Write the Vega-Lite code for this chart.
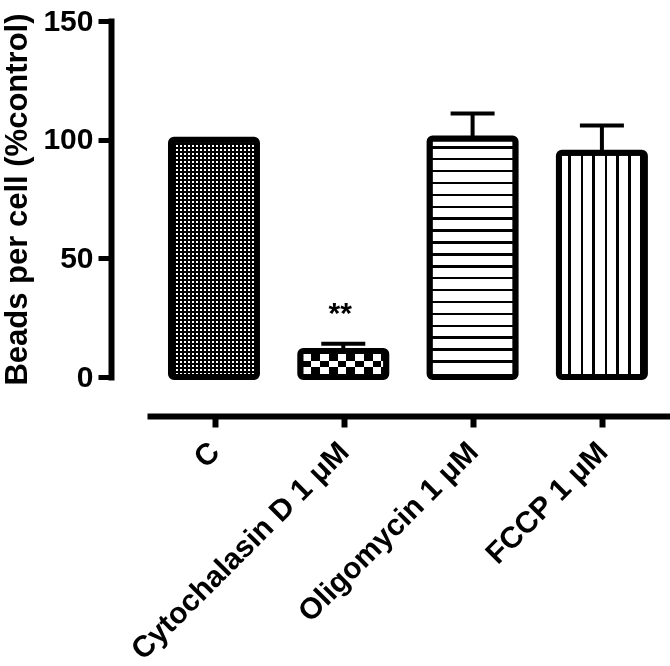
{
  "$schema": "https://vega.github.io/schema/vega-lite/v6.json",
  "autosize": "none",
  "width": 559,
  "height": 356,
  "padding": {"left": 111, "top": 21, "right": 0, "bottom": 289},
  "background": "white",
  "config": {
    "view": {"stroke": null},
    "font": "Liberation Sans",
    "axis": {"grid": false, "labelFont": "Liberation Sans", "labelFontWeight": "bold", "labelColor": "black", "titleFont": "Liberation Sans", "titleFontWeight": "bold", "titleColor": "black", "domainColor": "black", "tickColor": "black"},
    "axisY": {"domainWidth": 6, "domainCap": "square", "tickSize": 13, "tickWidth": 5, "labelFontSize": 30, "labelPadding": 5, "titleFontSize": 31, "titlePadding": 9}
  },
  "data": {"values": [
    {"group": "C", "value": 100, "upper": null, "label": ""},
    {"group": "Cytochalasin D 1 μM", "value": 11, "upper": 14, "label": "**"},
    {"group": "Oligomycin 1 μM", "value": 100.5, "upper": 111, "label": ""},
    {"group": "FCCP 1 μM", "value": 94.5, "upper": 106, "label": ""}
  ]},
  "resolve": {"scale": {"x": "independent"}, "axis": {"x": "independent"}},
  "layer": [
    {
      "encoding": {
        "x": {"field": "group", "type": "nominal", "sort": null, "scale": {"domain": ["C", "Cytochalasin D 1 μM", "Oligomycin 1 μM", "FCCP 1 μM"], "paddingInner": 0.335, "paddingOuter": 0.329, "align": 0.705}, "axis": null}
      },
      "layer": [
        {
          "transform": [{"filter": "datum.group === 'C'"}],
          "mark": {"type": "bar", "fill": {"gradient": "linear", "x1": 0, "y1": 0, "x2": 1, "y2": 0, "stops": [
            {"offset": 0, "color": "#000"},
            {"offset": 0.01163, "color": "#000"}, {"offset": 0.01163, "color": "#fff"}, {"offset": 0.03488, "color": "#fff"}, {"offset": 0.03488, "color": "#000"},
            {"offset": 0.05814, "color": "#000"}, {"offset": 0.05814, "color": "#fff"}, {"offset": 0.08140, "color": "#fff"}, {"offset": 0.08140, "color": "#000"},
            {"offset": 0.10465, "color": "#000"}, {"offset": 0.10465, "color": "#fff"}, {"offset": 0.12791, "color": "#fff"}, {"offset": 0.12791, "color": "#000"},
            {"offset": 0.15116, "color": "#000"}, {"offset": 0.15116, "color": "#fff"}, {"offset": 0.17442, "color": "#fff"}, {"offset": 0.17442, "color": "#000"},
            {"offset": 0.19767, "color": "#000"}, {"offset": 0.19767, "color": "#fff"}, {"offset": 0.22093, "color": "#fff"}, {"offset": 0.22093, "color": "#000"},
            {"offset": 0.24419, "color": "#000"}, {"offset": 0.24419, "color": "#fff"}, {"offset": 0.26744, "color": "#fff"}, {"offset": 0.26744, "color": "#000"},
            {"offset": 0.29070, "color": "#000"}, {"offset": 0.29070, "color": "#fff"}, {"offset": 0.31395, "color": "#fff"}, {"offset": 0.31395, "color": "#000"},
            {"offset": 0.33721, "color": "#000"}, {"offset": 0.33721, "color": "#fff"}, {"offset": 0.36047, "color": "#fff"}, {"offset": 0.36047, "color": "#000"},
            {"offset": 0.38372, "color": "#000"}, {"offset": 0.38372, "color": "#fff"}, {"offset": 0.40698, "color": "#fff"}, {"offset": 0.40698, "color": "#000"},
            {"offset": 0.43023, "color": "#000"}, {"offset": 0.43023, "color": "#fff"}, {"offset": 0.45349, "color": "#fff"}, {"offset": 0.45349, "color": "#000"},
            {"offset": 0.47674, "color": "#000"}, {"offset": 0.47674, "color": "#fff"}, {"offset": 0.5, "color": "#fff"}, {"offset": 0.5, "color": "#000"},
            {"offset": 0.52326, "color": "#000"}, {"offset": 0.52326, "color": "#fff"}, {"offset": 0.54651, "color": "#fff"}, {"offset": 0.54651, "color": "#000"},
            {"offset": 0.56977, "color": "#000"}, {"offset": 0.56977, "color": "#fff"}, {"offset": 0.59302, "color": "#fff"}, {"offset": 0.59302, "color": "#000"},
            {"offset": 0.61628, "color": "#000"}, {"offset": 0.61628, "color": "#fff"}, {"offset": 0.63953, "color": "#fff"}, {"offset": 0.63953, "color": "#000"},
            {"offset": 0.66279, "color": "#000"}, {"offset": 0.66279, "color": "#fff"}, {"offset": 0.68605, "color": "#fff"}, {"offset": 0.68605, "color": "#000"},
            {"offset": 0.70930, "color": "#000"}, {"offset": 0.70930, "color": "#fff"}, {"offset": 0.73256, "color": "#fff"}, {"offset": 0.73256, "color": "#000"},
            {"offset": 0.75581, "color": "#000"}, {"offset": 0.75581, "color": "#fff"}, {"offset": 0.77907, "color": "#fff"}, {"offset": 0.77907, "color": "#000"},
            {"offset": 0.80233, "color": "#000"}, {"offset": 0.80233, "color": "#fff"}, {"offset": 0.82558, "color": "#fff"}, {"offset": 0.82558, "color": "#000"},
            {"offset": 0.84884, "color": "#000"}, {"offset": 0.84884, "color": "#fff"}, {"offset": 0.87209, "color": "#fff"}, {"offset": 0.87209, "color": "#000"},
            {"offset": 0.89535, "color": "#000"}, {"offset": 0.89535, "color": "#fff"}, {"offset": 0.91860, "color": "#fff"}, {"offset": 0.91860, "color": "#000"},
            {"offset": 0.94186, "color": "#000"}, {"offset": 0.94186, "color": "#fff"}, {"offset": 0.96512, "color": "#fff"}, {"offset": 0.96512, "color": "#000"},
            {"offset": 1, "color": "#000"}
          ]}},
          "encoding": {"y": {"field": "value", "type": "quantitative", "scale": {"domain": [0, 150], "nice": false}, "title": "Beads per cell (%control)", "axis": {"values": [0, 50, 100, 150]}}}
        },
        {
          "transform": [{"filter": "datum.group === 'C'"}],
          "mark": {"type": "bar", "blend": "multiply", "fill": {"gradient": "linear", "x1": 0, "y1": 0, "x2": 0, "y2": 1, "stops": [
            {"offset": 0, "color": "#000"},
            {"offset": 0.00421, "color": "#000"}, {"offset": 0.00421, "color": "#fff"}, {"offset": 0.01264, "color": "#fff"}, {"offset": 0.01264, "color": "#000"},
            {"offset": 0.02107, "color": "#000"}, {"offset": 0.02107, "color": "#fff"}, {"offset": 0.02950, "color": "#fff"}, {"offset": 0.02950, "color": "#000"},
            {"offset": 0.03793, "color": "#000"}, {"offset": 0.03793, "color": "#fff"}, {"offset": 0.04636, "color": "#fff"}, {"offset": 0.04636, "color": "#000"},
            {"offset": 0.05478, "color": "#000"}, {"offset": 0.05478, "color": "#fff"}, {"offset": 0.06321, "color": "#fff"}, {"offset": 0.06321, "color": "#000"},
            {"offset": 0.07164, "color": "#000"}, {"offset": 0.07164, "color": "#fff"}, {"offset": 0.08007, "color": "#fff"}, {"offset": 0.08007, "color": "#000"},
            {"offset": 0.08850, "color": "#000"}, {"offset": 0.08850, "color": "#fff"}, {"offset": 0.09693, "color": "#fff"}, {"offset": 0.09693, "color": "#000"},
            {"offset": 0.10535, "color": "#000"}, {"offset": 0.10535, "color": "#fff"}, {"offset": 0.11378, "color": "#fff"}, {"offset": 0.11378, "color": "#000"},
            {"offset": 0.12221, "color": "#000"}, {"offset": 0.12221, "color": "#fff"}, {"offset": 0.13064, "color": "#fff"}, {"offset": 0.13064, "color": "#000"},
            {"offset": 0.13907, "color": "#000"}, {"offset": 0.13907, "color": "#fff"}, {"offset": 0.14750, "color": "#fff"}, {"offset": 0.14750, "color": "#000"},
            {"offset": 0.15592, "color": "#000"}, {"offset": 0.15592, "color": "#fff"}, {"offset": 0.16435, "color": "#fff"}, {"offset": 0.16435, "color": "#000"},
            {"offset": 0.17278, "color": "#000"}, {"offset": 0.17278, "color": "#fff"}, {"offset": 0.18121, "color": "#fff"}, {"offset": 0.18121, "color": "#000"},
            {"offset": 0.18964, "color": "#000"}, {"offset": 0.18964, "color": "#fff"}, {"offset": 0.19807, "color": "#fff"}, {"offset": 0.19807, "color": "#000"},
            {"offset": 0.20649, "color": "#000"}, {"offset": 0.20649, "color": "#fff"}, {"offset": 0.21492, "color": "#fff"}, {"offset": 0.21492, "color": "#000"},
            {"offset": 0.22335, "color": "#000"}, {"offset": 0.22335, "color": "#fff"}, {"offset": 0.23178, "color": "#fff"}, {"offset": 0.23178, "color": "#000"},
            {"offset": 0.24021, "color": "#000"}, {"offset": 0.24021, "color": "#fff"}, {"offset": 0.24864, "color": "#fff"}, {"offset": 0.24864, "color": "#000"},
            {"offset": 0.25706, "color": "#000"}, {"offset": 0.25706, "color": "#fff"}, {"offset": 0.26549, "color": "#fff"}, {"offset": 0.26549, "color": "#000"},
            {"offset": 0.27392, "color": "#000"}, {"offset": 0.27392, "color": "#fff"}, {"offset": 0.28235, "color": "#fff"}, {"offset": 0.28235, "color": "#000"},
            {"offset": 0.29078, "color": "#000"}, {"offset": 0.29078, "color": "#fff"}, {"offset": 0.29921, "color": "#fff"}, {"offset": 0.29921, "color": "#000"},
            {"offset": 0.30763, "color": "#000"}, {"offset": 0.30763, "color": "#fff"}, {"offset": 0.31606, "color": "#fff"}, {"offset": 0.31606, "color": "#000"},
            {"offset": 0.32449, "color": "#000"}, {"offset": 0.32449, "color": "#fff"}, {"offset": 0.33292, "color": "#fff"}, {"offset": 0.33292, "color": "#000"},
            {"offset": 0.34135, "color": "#000"}, {"offset": 0.34135, "color": "#fff"}, {"offset": 0.34978, "color": "#fff"}, {"offset": 0.34978, "color": "#000"},
            {"offset": 0.35820, "color": "#000"}, {"offset": 0.35820, "color": "#fff"}, {"offset": 0.36663, "color": "#fff"}, {"offset": 0.36663, "color": "#000"},
            {"offset": 0.37506, "color": "#000"}, {"offset": 0.37506, "color": "#fff"}, {"offset": 0.38349, "color": "#fff"}, {"offset": 0.38349, "color": "#000"},
            {"offset": 0.39192, "color": "#000"}, {"offset": 0.39192, "color": "#fff"}, {"offset": 0.40035, "color": "#fff"}, {"offset": 0.40035, "color": "#000"},
            {"offset": 0.40877, "color": "#000"}, {"offset": 0.40877, "color": "#fff"}, {"offset": 0.41720, "color": "#fff"}, {"offset": 0.41720, "color": "#000"},
            {"offset": 0.42563, "color": "#000"}, {"offset": 0.42563, "color": "#fff"}, {"offset": 0.43406, "color": "#fff"}, {"offset": 0.43406, "color": "#000"},
            {"offset": 0.44249, "color": "#000"}, {"offset": 0.44249, "color": "#fff"}, {"offset": 0.45092, "color": "#fff"}, {"offset": 0.45092, "color": "#000"},
            {"offset": 0.45934, "color": "#000"}, {"offset": 0.45934, "color": "#fff"}, {"offset": 0.46777, "color": "#fff"}, {"offset": 0.46777, "color": "#000"},
            {"offset": 0.47620, "color": "#000"}, {"offset": 0.47620, "color": "#fff"}, {"offset": 0.48463, "color": "#fff"}, {"offset": 0.48463, "color": "#000"},
            {"offset": 0.49306, "color": "#000"}, {"offset": 0.49306, "color": "#fff"}, {"offset": 0.50149, "color": "#fff"}, {"offset": 0.50149, "color": "#000"},
            {"offset": 0.50991, "color": "#000"}, {"offset": 0.50991, "color": "#fff"}, {"offset": 0.51834, "color": "#fff"}, {"offset": 0.51834, "color": "#000"},
            {"offset": 0.52677, "color": "#000"}, {"offset": 0.52677, "color": "#fff"}, {"offset": 0.53520, "color": "#fff"}, {"offset": 0.53520, "color": "#000"},
            {"offset": 0.54363, "color": "#000"}, {"offset": 0.54363, "color": "#fff"}, {"offset": 0.55206, "color": "#fff"}, {"offset": 0.55206, "color": "#000"},
            {"offset": 0.56048, "color": "#000"}, {"offset": 0.56048, "color": "#fff"}, {"offset": 0.56891, "color": "#fff"}, {"offset": 0.56891, "color": "#000"},
            {"offset": 0.57734, "color": "#000"}, {"offset": 0.57734, "color": "#fff"}, {"offset": 0.58577, "color": "#fff"}, {"offset": 0.58577, "color": "#000"},
            {"offset": 0.59420, "color": "#000"}, {"offset": 0.59420, "color": "#fff"}, {"offset": 0.60263, "color": "#fff"}, {"offset": 0.60263, "color": "#000"},
            {"offset": 0.61105, "color": "#000"}, {"offset": 0.61105, "color": "#fff"}, {"offset": 0.61948, "color": "#fff"}, {"offset": 0.61948, "color": "#000"},
            {"offset": 0.62791, "color": "#000"}, {"offset": 0.62791, "color": "#fff"}, {"offset": 0.63634, "color": "#fff"}, {"offset": 0.63634, "color": "#000"},
            {"offset": 0.64477, "color": "#000"}, {"offset": 0.64477, "color": "#fff"}, {"offset": 0.65320, "color": "#fff"}, {"offset": 0.65320, "color": "#000"},
            {"offset": 0.66162, "color": "#000"}, {"offset": 0.66162, "color": "#fff"}, {"offset": 0.67005, "color": "#fff"}, {"offset": 0.67005, "color": "#000"},
            {"offset": 0.67848, "color": "#000"}, {"offset": 0.67848, "color": "#fff"}, {"offset": 0.68691, "color": "#fff"}, {"offset": 0.68691, "color": "#000"},
            {"offset": 0.69534, "color": "#000"}, {"offset": 0.69534, "color": "#fff"}, {"offset": 0.70377, "color": "#fff"}, {"offset": 0.70377, "color": "#000"},
            {"offset": 0.71219, "color": "#000"}, {"offset": 0.71219, "color": "#fff"}, {"offset": 0.72062, "color": "#fff"}, {"offset": 0.72062, "color": "#000"},
            {"offset": 0.72905, "color": "#000"}, {"offset": 0.72905, "color": "#fff"}, {"offset": 0.73748, "color": "#fff"}, {"offset": 0.73748, "color": "#000"},
            {"offset": 0.74591, "color": "#000"}, {"offset": 0.74591, "color": "#fff"}, {"offset": 0.75434, "color": "#fff"}, {"offset": 0.75434, "color": "#000"},
            {"offset": 0.76276, "color": "#000"}, {"offset": 0.76276, "color": "#fff"}, {"offset": 0.77119, "color": "#fff"}, {"offset": 0.77119, "color": "#000"},
            {"offset": 0.77962, "color": "#000"}, {"offset": 0.77962, "color": "#fff"}, {"offset": 0.78805, "color": "#fff"}, {"offset": 0.78805, "color": "#000"},
            {"offset": 0.79648, "color": "#000"}, {"offset": 0.79648, "color": "#fff"}, {"offset": 0.80491, "color": "#fff"}, {"offset": 0.80491, "color": "#000"},
            {"offset": 0.81333, "color": "#000"}, {"offset": 0.81333, "color": "#fff"}, {"offset": 0.82176, "color": "#fff"}, {"offset": 0.82176, "color": "#000"},
            {"offset": 0.83019, "color": "#000"}, {"offset": 0.83019, "color": "#fff"}, {"offset": 0.83862, "color": "#fff"}, {"offset": 0.83862, "color": "#000"},
            {"offset": 0.84705, "color": "#000"}, {"offset": 0.84705, "color": "#fff"}, {"offset": 0.85548, "color": "#fff"}, {"offset": 0.85548, "color": "#000"},
            {"offset": 0.86390, "color": "#000"}, {"offset": 0.86390, "color": "#fff"}, {"offset": 0.87233, "color": "#fff"}, {"offset": 0.87233, "color": "#000"},
            {"offset": 0.88076, "color": "#000"}, {"offset": 0.88076, "color": "#fff"}, {"offset": 0.88919, "color": "#fff"}, {"offset": 0.88919, "color": "#000"},
            {"offset": 0.89762, "color": "#000"}, {"offset": 0.89762, "color": "#fff"}, {"offset": 0.90605, "color": "#fff"}, {"offset": 0.90605, "color": "#000"},
            {"offset": 0.91447, "color": "#000"}, {"offset": 0.91447, "color": "#fff"}, {"offset": 0.92290, "color": "#fff"}, {"offset": 0.92290, "color": "#000"},
            {"offset": 0.93133, "color": "#000"}, {"offset": 0.93133, "color": "#fff"}, {"offset": 0.93976, "color": "#fff"}, {"offset": 0.93976, "color": "#000"},
            {"offset": 0.94819, "color": "#000"}, {"offset": 0.94819, "color": "#fff"}, {"offset": 0.95662, "color": "#fff"}, {"offset": 0.95662, "color": "#000"},
            {"offset": 0.96504, "color": "#000"}, {"offset": 0.96504, "color": "#fff"}, {"offset": 0.97347, "color": "#fff"}, {"offset": 0.97347, "color": "#000"},
            {"offset": 0.98190, "color": "#000"}, {"offset": 0.98190, "color": "#fff"}, {"offset": 0.99033, "color": "#fff"}, {"offset": 0.99033, "color": "#000"},
            {"offset": 1, "color": "#000"}
          ]}},
          "encoding": {"y": {"field": "value", "type": "quantitative", "scale": {"domain": [0, 150], "nice": false}, "title": "Beads per cell (%control)", "axis": {"values": [0, 50, 100, 150]}}}
        },
        {
          "transform": [{"filter": "datum.group === 'Cytochalasin D 1 μM'"}],
          "mark": {"type": "bar", "fill": {"gradient": "linear", "x1": 0, "y1": 0, "x2": 1, "y2": 0, "stops": [
            {"offset": 0, "color": "#000"},
            {"offset": 0.024, "color": "#000"}, {"offset": 0.024, "color": "#fff"}, {"offset": 0.125, "color": "#fff"}, {"offset": 0.125, "color": "#000"},
            {"offset": 0.229, "color": "#000"}, {"offset": 0.229, "color": "#fff"}, {"offset": 0.330, "color": "#fff"}, {"offset": 0.330, "color": "#000"},
            {"offset": 0.433, "color": "#000"}, {"offset": 0.433, "color": "#fff"}, {"offset": 0.534, "color": "#fff"}, {"offset": 0.534, "color": "#000"},
            {"offset": 0.638, "color": "#000"}, {"offset": 0.638, "color": "#fff"}, {"offset": 0.739, "color": "#fff"}, {"offset": 0.739, "color": "#000"},
            {"offset": 0.843, "color": "#000"}, {"offset": 0.843, "color": "#fff"}, {"offset": 0.944, "color": "#fff"}, {"offset": 0.944, "color": "#000"},
            {"offset": 1, "color": "#000"}
          ]}},
          "encoding": {"y": {"field": "value", "type": "quantitative", "scale": {"domain": [0, 150], "nice": false}, "title": "Beads per cell (%control)", "axis": {"values": [0, 50, 100, 150]}}}
        },
        {
          "transform": [{"filter": "datum.group === 'Cytochalasin D 1 μM'"}],
          "mark": {"type": "bar", "blend": "difference", "fill": {"gradient": "linear", "x1": 0, "y1": 0, "x2": 0, "y2": 1, "stops": [
            {"offset": 0, "color": "#000"},
            {"offset": 0.375, "color": "#000"}, {"offset": 0.375, "color": "#fff"}, {"offset": 0.632, "color": "#fff"}, {"offset": 0.632, "color": "#000"},
            {"offset": 1, "color": "#000"}
          ]}},
          "encoding": {"y": {"field": "value", "type": "quantitative", "scale": {"domain": [0, 150], "nice": false}, "title": "Beads per cell (%control)", "axis": {"values": [0, 50, 100, 150]}}}
        },
        {
          "transform": [{"filter": "datum.group === 'Oligomycin 1 μM'"}],
          "mark": {"type": "bar", "fill": {"gradient": "linear", "x1": 0, "y1": 0, "x2": 0, "y2": 1, "stops": [
            {"offset": 0, "color": "#fff"},
            {"offset": 0.0317, "color": "#fff"}, {"offset": 0.0317, "color": "#000"}, {"offset": 0.0422, "color": "#000"}, {"offset": 0.0422, "color": "#fff"},
            {"offset": 0.0816, "color": "#fff"}, {"offset": 0.0816, "color": "#000"}, {"offset": 0.0921, "color": "#000"}, {"offset": 0.0921, "color": "#fff"},
            {"offset": 0.1315, "color": "#fff"}, {"offset": 0.1315, "color": "#000"}, {"offset": 0.1420, "color": "#000"}, {"offset": 0.1420, "color": "#fff"},
            {"offset": 0.1814, "color": "#fff"}, {"offset": 0.1814, "color": "#000"}, {"offset": 0.1919, "color": "#000"}, {"offset": 0.1919, "color": "#fff"},
            {"offset": 0.2313, "color": "#fff"}, {"offset": 0.2313, "color": "#000"}, {"offset": 0.2418, "color": "#000"}, {"offset": 0.2418, "color": "#fff"},
            {"offset": 0.2812, "color": "#fff"}, {"offset": 0.2812, "color": "#000"}, {"offset": 0.2917, "color": "#000"}, {"offset": 0.2917, "color": "#fff"},
            {"offset": 0.3311, "color": "#fff"}, {"offset": 0.3311, "color": "#000"}, {"offset": 0.3416, "color": "#000"}, {"offset": 0.3416, "color": "#fff"},
            {"offset": 0.3810, "color": "#fff"}, {"offset": 0.3810, "color": "#000"}, {"offset": 0.3915, "color": "#000"}, {"offset": 0.3915, "color": "#fff"},
            {"offset": 0.4309, "color": "#fff"}, {"offset": 0.4309, "color": "#000"}, {"offset": 0.4414, "color": "#000"}, {"offset": 0.4414, "color": "#fff"},
            {"offset": 0.4808, "color": "#fff"}, {"offset": 0.4808, "color": "#000"}, {"offset": 0.4913, "color": "#000"}, {"offset": 0.4913, "color": "#fff"},
            {"offset": 0.5307, "color": "#fff"}, {"offset": 0.5307, "color": "#000"}, {"offset": 0.5412, "color": "#000"}, {"offset": 0.5412, "color": "#fff"},
            {"offset": 0.5806, "color": "#fff"}, {"offset": 0.5806, "color": "#000"}, {"offset": 0.5911, "color": "#000"}, {"offset": 0.5911, "color": "#fff"},
            {"offset": 0.6305, "color": "#fff"}, {"offset": 0.6305, "color": "#000"}, {"offset": 0.6410, "color": "#000"}, {"offset": 0.6410, "color": "#fff"},
            {"offset": 0.6804, "color": "#fff"}, {"offset": 0.6804, "color": "#000"}, {"offset": 0.6909, "color": "#000"}, {"offset": 0.6909, "color": "#fff"},
            {"offset": 0.7303, "color": "#fff"}, {"offset": 0.7303, "color": "#000"}, {"offset": 0.7408, "color": "#000"}, {"offset": 0.7408, "color": "#fff"},
            {"offset": 0.7802, "color": "#fff"}, {"offset": 0.7802, "color": "#000"}, {"offset": 0.7907, "color": "#000"}, {"offset": 0.7907, "color": "#fff"},
            {"offset": 0.8301, "color": "#fff"}, {"offset": 0.8301, "color": "#000"}, {"offset": 0.8406, "color": "#000"}, {"offset": 0.8406, "color": "#fff"},
            {"offset": 0.8800, "color": "#fff"}, {"offset": 0.8800, "color": "#000"}, {"offset": 0.8905, "color": "#000"}, {"offset": 0.8905, "color": "#fff"},
            {"offset": 0.9299, "color": "#fff"}, {"offset": 0.9299, "color": "#000"}, {"offset": 0.9404, "color": "#000"}, {"offset": 0.9404, "color": "#fff"},
            {"offset": 1, "color": "#fff"}
          ]}},
          "encoding": {"y": {"field": "value", "type": "quantitative", "scale": {"domain": [0, 150], "nice": false}, "title": "Beads per cell (%control)", "axis": {"values": [0, 50, 100, 150]}}}
        },
        {
          "transform": [{"filter": "datum.group === 'FCCP 1 μM'"}],
          "mark": {"type": "bar", "fill": {"gradient": "linear", "x1": 0, "y1": 0, "x2": 1, "y2": 0, "stops": [
            {"offset": 0, "color": "#fff"},
            {"offset": 0.1070, "color": "#fff"}, {"offset": 0.1070, "color": "#000"}, {"offset": 0.1349, "color": "#000"}, {"offset": 0.1349, "color": "#fff"},
            {"offset": 0.2512, "color": "#fff"}, {"offset": 0.2512, "color": "#000"}, {"offset": 0.2791, "color": "#000"}, {"offset": 0.2791, "color": "#fff"},
            {"offset": 0.3860, "color": "#fff"}, {"offset": 0.3860, "color": "#000"}, {"offset": 0.4140, "color": "#000"}, {"offset": 0.4140, "color": "#fff"},
            {"offset": 0.5302, "color": "#fff"}, {"offset": 0.5302, "color": "#000"}, {"offset": 0.5581, "color": "#000"}, {"offset": 0.5581, "color": "#fff"},
            {"offset": 0.6651, "color": "#fff"}, {"offset": 0.6651, "color": "#000"}, {"offset": 0.6930, "color": "#000"}, {"offset": 0.6930, "color": "#fff"},
            {"offset": 0.8047, "color": "#fff"}, {"offset": 0.8047, "color": "#000"}, {"offset": 0.8326, "color": "#000"}, {"offset": 0.8326, "color": "#fff"},
            {"offset": 0.9407, "color": "#fff"}, {"offset": 0.9407, "color": "#000"}, {"offset": 0.9686, "color": "#000"}, {"offset": 0.9686, "color": "#fff"},
            {"offset": 1, "color": "#fff"}
          ]}},
          "encoding": {"y": {"field": "value", "type": "quantitative", "scale": {"domain": [0, 150], "nice": false}, "title": "Beads per cell (%control)", "axis": {"values": [0, 50, 100, 150]}}}
        },
        {
          "mark": {"type": "bar", "fill": "#fff", "fillOpacity": 0, "stroke": "#000", "strokeWidth": 6, "cornerRadius": 3},
          "encoding": {"y": {"field": "value", "type": "quantitative", "scale": {"domain": [0, 150], "nice": false}, "title": "Beads per cell (%control)", "axis": {"values": [0, 50, 100, 150]}}}
        },
        {
          "transform": [{"filter": "datum.upper != null"}],
          "mark": {"type": "rule", "color": "#000", "strokeWidth": 4},
          "encoding": {
            "y": {"field": "value", "type": "quantitative", "scale": {"domain": [0, 150], "nice": false}, "title": "Beads per cell (%control)", "axis": {"values": [0, 50, 100, 150]}},
            "y2": {"field": "upper"}
          }
        },
        {
          "transform": [{"filter": "datum.upper != null"}],
          "mark": {"type": "tick", "color": "#000", "size": 44, "thickness": 4, "opacity": 1},
          "encoding": {"y": {"field": "upper", "type": "quantitative", "scale": {"domain": [0, 150], "nice": false}, "title": "Beads per cell (%control)", "axis": {"values": [0, 50, 100, 150]}}}
        },
        {
          "transform": [{"filter": "datum.label != ''"}],
          "mark": {"type": "text", "font": "Liberation Sans", "fontWeight": "bold", "fontSize": 30, "baseline": "alphabetic", "dy": -21, "dx": -3, "color": "#000"},
          "encoding": {
            "y": {"field": "upper", "type": "quantitative", "scale": {"domain": [0, 150], "nice": false}, "title": "Beads per cell (%control)", "axis": {"values": [0, 50, 100, 150]}},
            "text": {"field": "label"}
          }
        }
      ]
    },
    {
      "mark": {"type": "point", "opacity": 0},
      "encoding": {
        "x": {"field": "group", "type": "nominal", "sort": null,
          "scale": {"type": "point", "domain": ["C", "Cytochalasin D 1 μM", "Oligomycin 1 μM", "FCCP 1 μM"], "range": [36, 559], "padding": 0.5225},
          "axis": {"orient": "bottom", "title": null, "offset": 39, "domainWidth": 6, "domainCap": "butt", "tickSize": 11, "tickWidth": 6, "labelAngle": -45, "labelAlign": "right", "labelBaseline": "middle", "labelFontSize": 30, "labelPadding": 20, "labelLimit": 0, "labelOverlap": false}
        }
      }
    }
  ]
}
